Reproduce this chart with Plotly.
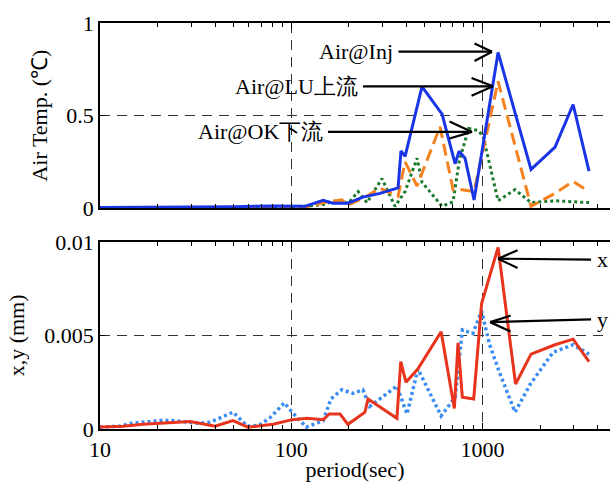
import math
import plotly.graph_objects as go
from plotly.subplots import make_subplots

# ---- data (period in sec) ----
inj_period = [10, 20, 30, 50, 80, 100, 118, 147, 165, 198, 237, 291, 362, 375, 394, 483, 615, 719, 755, 811, 904, 1207, 1795, 2397, 2979, 3607]
inj_val = [0.003, 0.004, 0.005, 0.008, 0.012, 0.012, 0.01, 0.043, 0.027, 0.027, 0.06, 0.08, 0.11, 0.31, 0.28, 0.656, 0.508, 0.24, 0.307, 0.27, 0.044, 0.841, 0.209, 0.33, 0.56, 0.2]

lu_period = [10, 20, 30, 50, 80, 100, 118, 147, 184, 198, 237, 291, 362, 394, 455, 600, 702, 782, 904, 1207, 1795, 2397, 2979, 3607]
lu_val = [0.002, 0.002, 0.003, 0.004, 0.005, 0.006, 0.003, 0.03, 0.045, 0.016, 0.053, 0.107, 0.064, 0.25, 0.12, 0.44, 0.1, 0.1, 0.09, 0.685, 0.01, 0.08, 0.145, 0.09]

ok_period = [10, 20, 30, 50, 80, 100, 118, 147, 165, 184, 198, 224, 249, 298, 349, 394, 455, 483, 615, 702, 755, 846, 945, 1007, 1207, 1480, 1795, 2397, 3607]
ok_val = [0.002, 0.003, 0.004, 0.004, 0.006, 0.005, 0.01, 0.02, 0.037, 0.04, 0.025, 0.09, 0.03, 0.16, 0.01, 0.09, 0.27, 0.14, 0.01, 0.035, 0.25, 0.43, 0.42, 0.39, 0.04, 0.1, 0.03, 0.04, 0.03]

x_period = [10, 13.2, 16.8, 20, 29.6, 40, 49.6, 59.4, 80.5, 101, 121, 147, 158, 180, 198, 243, 252, 357, 374, 398, 459, 608, 713, 745, 785, 900, 990, 1207, 1490, 1795, 2397, 2979, 3607]
x_val = [0.0001, 0.00015, 0.00025, 0.0003, 0.0004, 0.00015, 0.00045, 0.0001, 0.00025, 0.0005, 0.00057, 0.0005, 0.0008, 0.0008, 0.00025, 0.0009, 0.0016, 0.00057, 0.0036, 0.0025, 0.0032, 0.0052, 0.0011, 0.0046, 0.0017, 0.0016, 0.0067, 0.0097, 0.0024, 0.004, 0.0045, 0.0048, 0.0036]

y_period = [10, 12.7, 14.4, 18.3, 20.6, 24, 27.6, 32.8, 37, 40.6, 49.6, 59, 68, 77.5, 92, 101, 120, 147, 161, 184, 210, 237, 257, 357, 403, 460, 608, 720, 785, 890, 990, 1090, 1230, 1480, 1780, 2340, 2979, 3607]
y_val = [0.0001, 0.00015, 0.0003, 0.0004, 0.00045, 0.00045, 0.0004, 0.0003, 0.00035, 0.0005, 0.0009, 0.00015, 0.0002, 0.0006, 0.0014, 0.0009, 0.0001, 0.00045, 0.0016, 0.0021, 0.0019, 0.0021, 0.0012, 0.0023, 0.0008, 0.0032, 0.0007, 0.0017, 0.0053, 0.0051, 0.0063, 0.0045, 0.003, 0.0009, 0.0024, 0.0041, 0.0045, 0.004]

top_ticks = [0, 0.5, 1]
top_ticktext = ["0", "0.5", "1"]
bot_ticks = [0, 0.005, 0.01]
bot_ticktext = ["0", "0.005", "0.01"]
x_major = [10, 100, 1000]
x_major_text = ["10", "100", "1000"]
x_minor = [20, 30, 40, 50, 60, 70, 80, 90, 200, 300, 400, 500, 600, 700, 800, 900, 2000, 3000, 4000]

# annotations: (label, tip period, tip value, text offset x, text offset y, head offsets)
top_labels = [("Air@Inj", 1122, 0.845, -136, 0, (-19, -9, 10)),
              ("Air@LU上流", 1136, 0.658, -197, 0, (-23, -9, 10)),
              ("Air@OK下流", 882, 0.412, -212, 0, (-24, -11, 7))]
bot_labels = [("x", 1207, 0.0091, 104, 1, (21, -9, 10)),
              ("y", 1096, 0.00571, 112, -3, (22, -7, 10))]

FONT = "Liberation Serif"

fig = make_subplots(rows=2, cols=1, shared_xaxes=False)

fig.add_trace(go.Scatter(x=ok_period, y=ok_val, mode="lines", name="Air@OK下流",
                         line=dict(color="#1c7a2e", width=3, dash="3px,3px")), row=1, col=1)
fig.add_trace(go.Scatter(x=lu_period, y=lu_val, mode="lines", name="Air@LU上流",
                         line=dict(color="#f5821f", width=3, dash="12px,6px")), row=1, col=1)
fig.add_trace(go.Scatter(x=inj_period, y=inj_val, mode="lines", name="Air@Inj",
                         line=dict(color="#1a35e6", width=3)), row=1, col=1)

fig.add_trace(go.Scatter(x=y_period, y=y_val, mode="lines", name="y",
                         line=dict(color="#3a8cf2", width=3.5, dash="3px,3px")), row=2, col=1)
fig.add_trace(go.Scatter(x=x_period, y=x_val, mode="lines", name="x",
                         line=dict(color="#e8341c", width=3)), row=2, col=1)

xcommon = dict(type="log", range=[1, 3.667], tickvals=x_major, ticktext=x_major_text,
               ticks="inside", ticklen=6, tickwidth=1, tickcolor="black",
               showline=True, linecolor="black", linewidth=1.5, mirror="ticks",
               showgrid=True, gridcolor="#333", griddash="10px,7px", gridwidth=1,
               minor=dict(tickvals=x_minor, ticks="inside", ticklen=4, tickcolor="black", showgrid=False),
               zeroline=False, tickfont=dict(family=FONT, size=22, color="black"))
ycommon = dict(ticks="inside", ticklen=5, tickcolor="black", showline=True, linecolor="black",
               linewidth=1.5, mirror=False, showgrid=True, gridcolor="#333", griddash="10px,7px",
               gridwidth=1, zeroline=False, tickfont=dict(family=FONT, size=22, color="black"))

fig.update_layout(
    width=610, height=482,
    margin=dict(l=100, r=0, t=23, b=49),
    paper_bgcolor="white", plot_bgcolor="white",
    showlegend=False,
    font=dict(family=FONT, size=22, color="black"),
    xaxis=dict(xcommon, domain=[0, 1], showticklabels=False, matches="x2", anchor="y"),
    xaxis2=dict(xcommon, domain=[0, 1], anchor="y2",
                title=dict(text="period(sec)", font=dict(family=FONT, size=22, color="black"), standoff=4)),
    yaxis=dict(ycommon, domain=[0.5439, 1], range=[0, 1], tickvals=top_ticks, ticktext=top_ticktext,
               title=dict(text="Air Temp. (℃)", font=dict(family=FONT, size=22, color="black"), standoff=13)),
    yaxis2=dict(ycommon, domain=[0, 0.461], range=[0, 0.01], tickvals=bot_ticks, ticktext=bot_ticktext,
                title=dict(text="x,y (mm)", font=dict(family=FONT, size=22, color="black"), standoff=14)),
)

def add_labels(labels, xref, yref):
    for text, tx, ty, ax, ay, head in labels:
        lx = math.log10(tx)  # annotation positions on log axes are given in log10 units
        fig.add_annotation(x=lx, y=ty, xref=xref, yref=yref, text=text, showarrow=True,
                           arrowhead=0, arrowwidth=2.2, arrowcolor="black", ax=ax, ay=ay,
                           borderpad=5, standoff=0,
                           font=dict(family=FONT, size=22, color="black"))
        hx, hy1, hy2 = head
        for hy in (hy1, hy2):
            fig.add_annotation(x=lx, y=ty, xref=xref, yref=yref, text="", showarrow=True,
                               arrowhead=0, arrowwidth=2.2, arrowcolor="black", ax=hx, ay=hy,
                               standoff=0)

add_labels(top_labels, "x", "y")
add_labels(bot_labels, "x2", "y2")

fig.write_html("out.html")
